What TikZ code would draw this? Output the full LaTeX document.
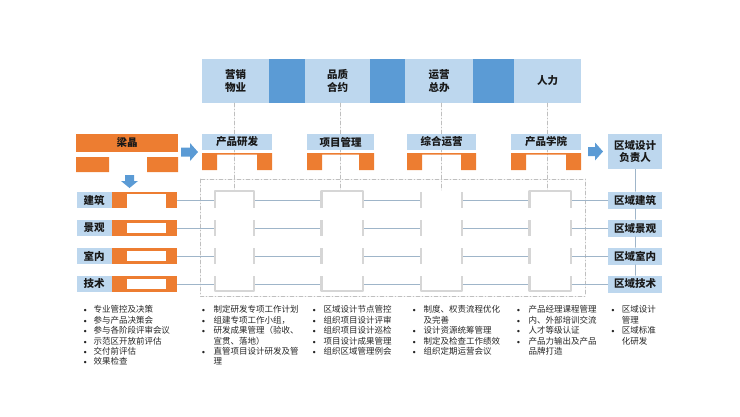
\documentclass[tikz,border=0pt]{standalone}
\usepackage{fontspec}
\newfontfamily\cjk{Noto Sans CJK SC}
\usetikzlibrary{positioning}
\definecolor{lblue}{HTML}{BDD7EE}
\definecolor{dblue}{HTML}{5B9BD5}
\definecolor{orng}{HTML}{ED7D31}
\definecolor{fgray}{HTML}{D6D6D6}
\definecolor{lgray}{HTML}{9FB5C9}
\definecolor{dgray}{HTML}{BFBFBF}
\newcommand{\blt}{{\rmfamily\textbullet}}
\begin{document}
\begin{tikzpicture}[x=1pt,y=-1pt,line cap=round,line join=round,
  every node/.style={font=\cjk},
  bx/.style={fill=lblue,inner sep=0pt,align=center,text=black!90,font=\cjk\bfseries\fontsize{10.5}{12}\selectfont},
  leg/.style={fill=orng},
  frm/.style={draw=fgray,line width=2.5pt,line cap=butt},
  dd/.style={draw=dgray,line width=0.6pt,dash pattern=on 4pt off 2pt on 1pt off 2pt},
  lnk/.style={draw=lgray,line width=0.8pt},
  lst/.style={anchor=north west,inner sep=0pt,text=black!85,font=\cjk\fontsize{8.5}{10.4}\selectfont}]
\useasboundingbox (0,0) rectangle (740,416);
\fill[dblue] (202,59) rectangle (581,103);
\node[bx,minimum width=67pt,minimum height=44pt,font=\cjk\bfseries\fontsize{10.5}{13.3}\selectfont] (mkt) at (235.5,81) {营销\\物业};
\node[bx,minimum width=65pt,minimum height=44pt,font=\cjk\bfseries\fontsize{10.5}{13.3}\selectfont] (qa) at (337.5,81) {品质\\合约};
\node[bx,minimum width=68pt,minimum height=44pt,font=\cjk\bfseries\fontsize{10.5}{13.3}\selectfont] (ops) at (439,81) {运营\\总办};
\node[bx,minimum width=67pt,minimum height=44pt] (hr) at (547.5,81) {人力};
\draw[dd] (234.5,103) -- (234.5,190);
\draw[dd] (340,103) -- (340,190);
\draw[dd] (441.5,103) -- (441.5,190);
\draw[dd] (547.5,103) -- (547.5,190);
\node[bx,minimum width=70pt,minimum height=16pt] (rd) at (237,142) {产品研发};
\node[bx,minimum width=67pt,minimum height=16pt] (pm) at (340.5,142) {项目管理};
\node[bx,minimum width=69pt,minimum height=16pt] (op) at (441.5,142) {综合运营};
\node[bx,minimum width=70pt,minimum height=16pt] (ac) at (546,142) {产品学院};
\foreach \a/\b in {202/272,307/374,407/476,511/581}
  \fill[leg] (\a,153) rectangle (\a+15,170) (\b-15,153) rectangle (\b,170) (\a,153) rectangle (\b,154.5);
\node[bx,fill=orng,minimum width=102pt,minimum height=18pt] (lj) at (127,143) {梁晶};
\fill[leg] (76,157) rectangle (109,172) (147,157) rectangle (178,172);
\fill[dblue] (125,175) -- (134,175) -- (134,181) -- (138,181) -- (129.5,188) -- (121,181) -- (125,181) -- cycle;
\fill[dblue] (181,147.5) -- (190,147.5) -- (190,143) -- (198,152) -- (190,161) -- (190,156.5) -- (181,156.5) -- cycle;
\fill[dblue] (588,147) -- (595,147) -- (595,142.5) -- (603,151.5) -- (595,160.5) -- (595,156) -- (588,156) -- cycle;
\node[bx,minimum width=54pt,minimum height=35pt] (rl) at (635,151.7) {区域设计\\负责人};
\draw[dd] (200,179) rectangle (585,296);
\foreach \t/\y/\n in {建筑/200/1,景观/228/2,室内/256/3,技术/284/4}{
  \node[bx,minimum width=35pt,minimum height=16.5pt] (l\n) at (94,\y) {\t};
  \node[fill=orng,minimum width=65.5pt,minimum height=16.5pt,inner sep=0pt] (o\n) at (144.5,\y) {};
  \node[bx,minimum width=54pt,minimum height=17pt] (r\n) at (635,\y) {区域\t};
  \draw[lnk] (o\n) -- (r\n);
}
\fill[white] (127,194) rectangle (165.7,208.25);
\foreach \y in {228,256,284}
  \fill[white] (127,\y-5.25) rectangle (165.7,\y+5.25);
\draw[lnk] (rl) -- (r1) -- (r2) -- (r3) -- (r4);
\foreach \a/\b in {215/254,321.5/363,421/462,529.5/571}{
  \fill[white] (\a+1.3,192) rectangle (\b-1.3,290);
  \foreach \y in {228,256}
    \draw[frm] (\a,\y-8) -- (\a,\y+8) (\b,\y-8) -- (\b,\y+8);
  \draw[frm] (\a,276) -- (\a,291) -- (\b,291) -- (\b,276);
}
\foreach \a/\b in {215/254,321.5/363,529.5/571}
  \draw[frm] (\a,208) -- (\a,191) -- (\b,191) -- (\b,208);
\draw[frm] (421,192) -- (421,208) (462,192) -- (462,208);
\node[lst] (t1) at (81.7,305.5) {\begin{tabular}{@{}p{11.6pt}@{}l@{}}
\blt & 专业管控及决策\\ \blt & 参与产品决策会\\ \blt & 参与各阶段评审会议\\
\blt & 示范区开放前评估\\ \blt & 交付前评估\\ \blt & 效果检查
\end{tabular}};
\node[lst] (t2) at (200,305.5) {\begin{tabular}{@{}p{13.3pt}@{}l@{}}
\blt & 制定研发专项工作计划\\ \blt & 组建专项工作小组，\\ \blt & 研发成果管理（验收、\\
 & 宣贯、落地）\\ \blt & 直管项目设计研发及管\\ & 理
\end{tabular}};
\node[lst] (t3) at (310.7,305.5) {\begin{tabular}{@{}p{12.6pt}@{}l@{}}
\blt & 区域设计节点管控\\ \blt & 组织项目设计评审\\ \blt & 组织项目设计巡检\\
\blt & 项目设计成果管理\\ \blt & 组织区域管理例会
\end{tabular}};
\node[lst] (t4) at (410.7,305.5) {\begin{tabular}{@{}p{12.6pt}@{}l@{}}
\blt & 制度、权责流程优化\\ & 及完善\\ \blt & 设计资源统筹管理\\
\blt & 制定及检查工作绩效\\ \blt & 组织定期运营会议
\end{tabular}};
\node[lst] (t5) at (515,305.5) {\begin{tabular}{@{}p{13.3pt}@{}l@{}}
\blt & 产品经理课程管理\\ \blt & 内、外部培训交流\\ \blt & 人才等级认证\\
\blt & 产品力输出及产品\\ & 品牌打造
\end{tabular}};
\node[lst] (t6) at (609.3,305.5) {\begin{tabular}{@{}p{12.4pt}@{}l@{}}
\blt & 区域设计\\ & 管理\\ \blt & 区域标准\\ & 化研发
\end{tabular}};
\end{tikzpicture}
\end{document}
